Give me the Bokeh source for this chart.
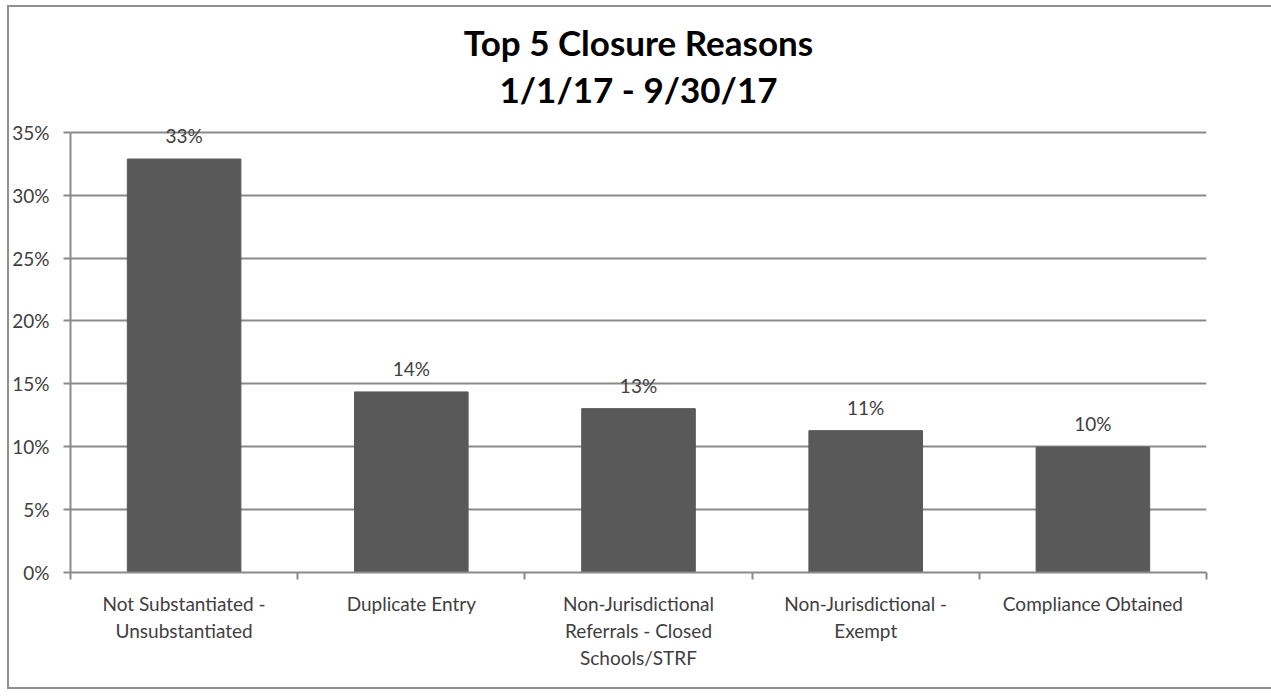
from bokeh.plotting import figure
from bokeh.models import (ColumnDataSource, FixedTicker, NumeralTickFormatter,
                          LabelSet, Range1d, Title)
from bokeh.core.properties import value
from bokeh.embed import file_html
from bokeh.resources import INLINE

# ---- data ----
categories = [
    "Not Substantiated -\nUnsubstantiated",
    "Duplicate Entry",
    "Non-Jurisdictional\nReferrals - Closed\nSchools/STRF",
    "Non-Jurisdictional -\nExempt",
    "Compliance Obtained",
]
values = [0.3288, 0.1436, 0.1303, 0.1128, 0.0997]
value_labels = ["33%", "14%", "13%", "11%", "10%"]
y_ticks = [0.0, 0.05, 0.10, 0.15, 0.20, 0.25, 0.30, 0.35]
title_lines = ["Top 5 Closure Reasons", "1/1/17 - 9/30/17"]

FONT = "Lato"
GRID = "#8a8a8a"
TXT = "#404040"

n = len(categories)
xs = [i + 0.5 for i in range(n)]
src = ColumnDataSource(dict(x=xs, top=values, lab=value_labels))

p = figure(frame_width=1136, frame_height=459, output_backend="svg",
           toolbar_location=None,
           x_range=Range1d(0, n), y_range=Range1d(0, 0.365),
           min_border_left=59, min_border_right=65, min_border_top=106,
           min_border_bottom=115)
p.styles = {"border": "2px solid #8f8f8f", "box-sizing": "border-box",
            "margin-left": "7px", "margin-top": "5px"}

p.vbar(x="x", top="top", width=0.5, bottom=0, source=src,
       fill_color="#595959", line_color="#595959")

labels = LabelSet(x="x", y="top", text="lab", source=src, text_align="center",
                  text_baseline="bottom", y_offset=12, text_font=value(FONT),
                  text_font_size="19px", text_color=TXT)
p.add_layout(labels)

# title (two centred lines; the one added first sits nearest the frame)
p.title = None
p.add_layout(Title(text=title_lines[1], align="center", text_font=FONT,
                   text_font_size="35px", text_font_style="bold",
                   text_color="#000000", standoff=7), "above")
p.add_layout(Title(text=title_lines[0], align="center", text_font=FONT,
                   text_font_size="35px", text_font_style="bold",
                   text_color="#000000", standoff=0), "above")

# x axis
xa = p.xaxis[0]
xa.ticker = FixedTicker(ticks=xs, minor_ticks=list(range(n + 1)))
xa.major_label_overrides = {x: c for x, c in zip(xs, categories)}
xa.major_tick_out = 0
xa.major_tick_in = 0
xa.minor_tick_out = 7
xa.minor_tick_in = 0
xa.minor_tick_line_color = GRID
xa.minor_tick_line_width = 2
xa.axis_line_color = GRID
xa.axis_line_width = 2
xa.major_label_standoff = 12
xa.major_label_text_font = FONT
xa.major_label_text_font_size = "19px"
xa.major_label_text_color = TXT
xa.major_label_text_line_height = 1.18

# y axis
ya = p.yaxis[0]
ya.ticker = FixedTicker(ticks=y_ticks)
ya.formatter = NumeralTickFormatter(format="0%")
ya.bounds = (0, 0.35)
ya.major_tick_out = 7
ya.major_tick_in = 0
ya.minor_tick_line_color = None
ya.major_tick_line_color = GRID
ya.major_tick_line_width = 2
ya.axis_line_color = GRID
ya.axis_line_width = 2
ya.major_label_standoff = 14
ya.major_label_text_font = FONT
ya.major_label_text_font_size = "19px"
ya.major_label_text_color = TXT

p.xgrid.grid_line_color = None
p.ygrid.grid_line_color = GRID
p.ygrid.grid_line_width = 2
p.ygrid.bounds = (0, 0.35)
p.outline_line_color = None
p.background_fill_color = "white"
p.border_fill_color = "white"

open("out.html", "w").write(file_html(p, INLINE))
